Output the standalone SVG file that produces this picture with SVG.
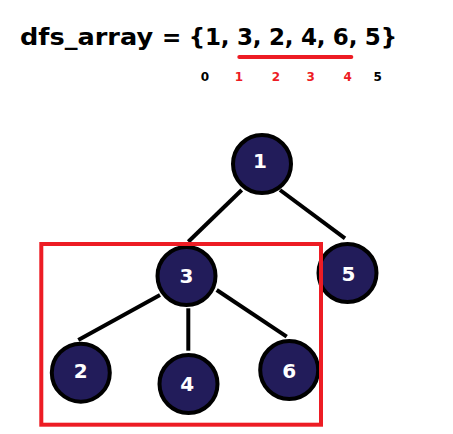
<svg xmlns="http://www.w3.org/2000/svg" width="453" height="434" viewBox="0 0 453 434">
<style>
.t{font-family:"DejaVu Sans","Open Sans",sans-serif;font-weight:700}
.title{font-size:23px;fill:#000}
.idx{font-size:12px}
.n circle{fill:#221c5a;stroke:#000;stroke-width:4}
.n text{font-family:"DejaVu Sans","Open Sans",sans-serif;font-weight:700;font-size:20px;fill:#fff;text-anchor:middle}
.e line{stroke:#000;stroke-width:4}
</style>
<rect width="453" height="434" fill="#fff"/>
<text class="t title" y="45"><tspan x="20" textLength="142" lengthAdjust="spacingAndGlyphs">dfs_array </tspan><tspan x="162" textLength="235" lengthAdjust="spacing">= {1, 3, 2, 4, 6, 5}</tspan></text>
<line x1="239.3" y1="57" x2="351.3" y2="57" stroke="#ed1c24" stroke-width="4" stroke-linecap="round"/>
<g class="t idx" text-anchor="middle">
<text x="205" y="81" fill="#000">0</text>
<text x="239" y="81" fill="#ed1c24">1</text>
<text x="276" y="81" fill="#ed1c24">2</text>
<text x="310.7" y="81" fill="#ed1c24">3</text>
<text x="347.7" y="81" fill="#ed1c24">4</text>
<text x="377.7" y="81" fill="#000">5</text>
</g>
<g id="edges" class="e">
<line x1="241.7" y1="190" x2="188.3" y2="241.7"/>
<line x1="280" y1="190" x2="345" y2="238.3"/>
<line x1="160" y1="295" x2="78.3" y2="340"/>
<line x1="188.3" y1="308.3" x2="188.3" y2="350.7"/>
<line x1="216.7" y1="290" x2="286.7" y2="336.7"/>
</g>
<g id="node1" class="n"><circle cx="262" cy="164" r="29"/><text x="260" y="168">1</text></g>
<g id="node3" class="n"><circle cx="186.5" cy="276" r="29"/><text x="186.5" y="283">3</text></g>
<g id="node5" class="n"><circle cx="347.5" cy="273" r="29"/><text x="348.5" y="281">5</text></g>
<g id="node2" class="n"><circle cx="80.8" cy="372.7" r="29"/><text x="80.7" y="377.5">2</text></g>
<g id="node4" class="n"><circle cx="188.5" cy="384" r="29"/><text x="187.3" y="391">4</text></g>
<g id="node6" class="n"><circle cx="289.2" cy="370" r="29"/><text x="289.3" y="378">6</text></g>
<rect x="41.3" y="244" width="279.7" height="180.7" fill="none" stroke="#ed1c24" stroke-width="4"/>
</svg>
